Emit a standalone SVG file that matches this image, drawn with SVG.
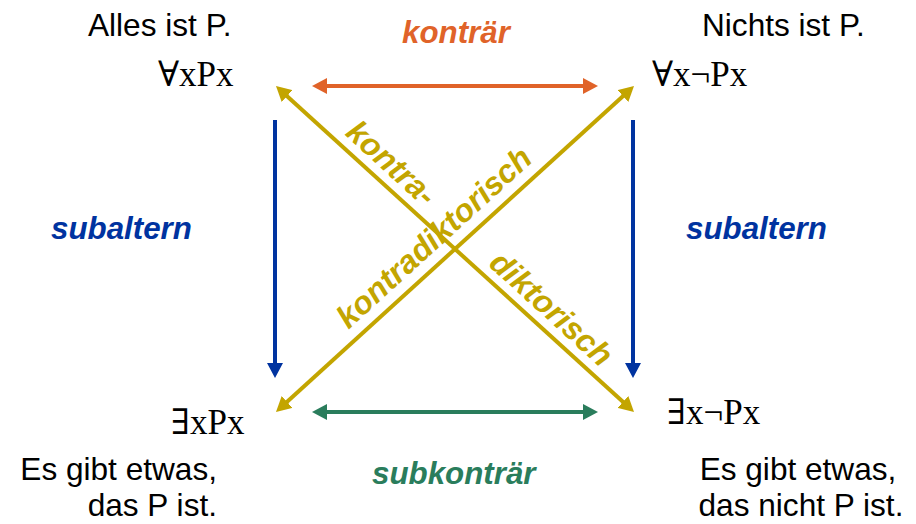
<svg xmlns="http://www.w3.org/2000/svg" width="916" height="524" viewBox="0 0 916 524">
<style>
.t{font-family:"Liberation Sans",Arial,sans-serif;font-size:31.6px;fill:#000}
.f{font-family:"Liberation Serif","DejaVu Serif",serif;font-size:35px;fill:#000}
.b{font-family:"Liberation Sans",Arial,sans-serif;font-size:31.3px;font-weight:bold;font-style:italic}
.d{font-size:32px}
.ln{stroke-width:4;fill:none}
</style>
<defs>
<marker id="ho" viewBox="0 0 15 16" refX="7" refY="8" markerWidth="15" markerHeight="16" markerUnits="userSpaceOnUse" orient="auto-start-reverse"><path d="M0,0 L15,8 L0,16 z" fill="#E06329"/></marker>
<marker id="hg" viewBox="0 0 15 16" refX="7" refY="8" markerWidth="15" markerHeight="16" markerUnits="userSpaceOnUse" orient="auto-start-reverse"><path d="M0,0 L15,8 L0,16 z" fill="#2A7D5C"/></marker>
<marker id="hb" viewBox="0 0 15 16" refX="7" refY="8" markerWidth="15" markerHeight="16" markerUnits="userSpaceOnUse" orient="auto-start-reverse"><path d="M0,0 L15,8 L0,16 z" fill="#0033A0"/></marker>
<marker id="hy" viewBox="0 0 15 16" refX="7" refY="8" markerWidth="15" markerHeight="16" markerUnits="userSpaceOnUse" orient="auto-start-reverse"><path d="M0,0 L15,8 L0,16 z" fill="#C3A500"/></marker>
</defs>
<g id="connectors">
<line class="ln" x1="320" y1="86" x2="590" y2="86" stroke="#E06329" marker-start="url(#ho)" marker-end="url(#ho)"/>
<line class="ln" x1="320" y1="412" x2="590" y2="412" stroke="#2A7D5C" marker-start="url(#hg)" marker-end="url(#hg)"/>
<line class="ln" x1="275" y1="120" x2="275" y2="370" stroke="#0033A0" marker-end="url(#hb)"/>
<line class="ln" x1="633" y1="120" x2="633" y2="370" stroke="#0033A0" marker-end="url(#hb)"/>
<line class="ln" x1="281.9" y1="91.4" x2="628.1" y2="406.6" stroke="#C3A500" marker-start="url(#hy)" marker-end="url(#hy)"/>
<line class="ln" x1="628.1" y1="91.4" x2="281.9" y2="406.6" stroke="#C3A500" marker-start="url(#hy)" marker-end="url(#hy)"/>
</g>
<g id="labels">
<text class="b" x="402" y="43" fill="#E06329">konträr</text>
<text class="b" x="372" y="484" fill="#2A7D5C">subkonträr</text>
<text class="b" x="51" y="239" fill="#0033A0">subaltern</text>
<text class="b" x="686" y="239" fill="#0033A0">subaltern</text>
<g transform="translate(455,249) rotate(42.3)" fill="#C3A500">
<text class="b d" x="-159" y="-10">kontra-</text>
<text class="b d" x="35" y="-10">diktorisch</text>
</g>
<g transform="translate(455,249) rotate(-42.3)" fill="#C3A500">
<text class="b d" x="-133" y="-12">kontradiktorisch</text>
</g>
</g>
<g id="node-A">
<text class="t" x="88" y="36">Alles ist P.</text>
<text class="f" x="158" y="86">∀xPx</text>
</g>
<g id="node-E">
<text class="t" x="702" y="36">Nichts ist P.</text>
<text class="f" x="652" y="86">∀x¬Px</text>
</g>
<g id="node-I">
<text class="f" x="171" y="434">∃xPx</text>
<text class="t" x="217" y="480" text-anchor="end">Es gibt etwas,</text>
<text class="t" x="217" y="516" text-anchor="end">das P ist.</text>
</g>
<g id="node-O">
<text class="f" x="667" y="424">∃x¬Px</text>
<text class="t" x="798" y="480" text-anchor="middle">Es gibt etwas,</text>
<text class="t" x="801" y="516" text-anchor="middle">das nicht P ist.</text>
</g>
</svg>
